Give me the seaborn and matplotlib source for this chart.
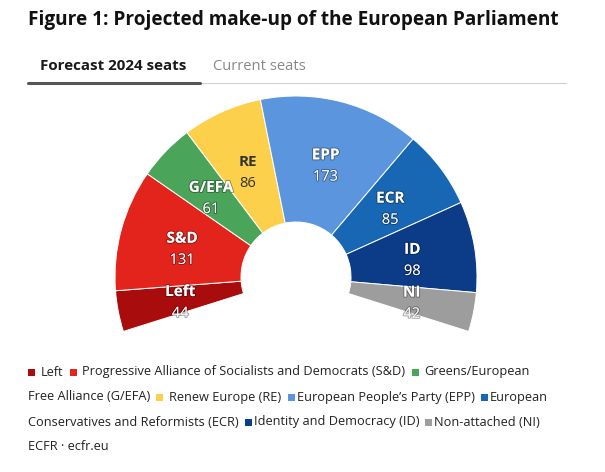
import numpy as np
import pandas as pd
import matplotlib
matplotlib.use("Agg")
import matplotlib.pyplot as plt
from matplotlib.patches import Rectangle
from matplotlib.lines import Line2D
import matplotlib.patheffects as pe
import seaborn as sns

# ---------------- data ----------------
parties = ["Left", "S&D", "G/EFA", "RE", "EPP", "ECR", "ID", "NI"]
seats = [44, 131, 61, 86, 173, 85, 98, 42]
full_names = [
    "Left",
    "Progressive Alliance of Socialists and Democrats (S&D)",
    "Greens/European Free Alliance (G/EFA)",
    "Renew Europe (RE)",
    "European People\u2019s Party (EPP)",
    "European Conservatives and Reformists (ECR)",
    "Identity and Democracy (ID)",
    "Non-attached (NI)",
]
colors = ["#a80c0c", "#e3241c", "#4aa45a", "#fdd04c", "#5a95de", "#1767b4", "#0c3c88", "#9d9d9d"]
label_colors = ["white", "white", "white", "#333333", "white", "white", "white", "white"]
title = "Figure 1: Projected make-up of the European Parliament"
tabs = ["Forecast 2024 seats", "Current seats"]
source = "ECFR \u00b7 ecfr.eu"

df = pd.DataFrame({"party": parties, "seats": seats, "color": colors})

# ---------------- figure ----------------
sns.set_theme(style="white")
plt.rcParams["font.family"] = ["Open Sans", "DejaVu Sans"]

W, H = 605, 472
fig = plt.figure(figsize=(W / 100, H / 100), dpi=100)
fig.patch.set_facecolor("white")

def px(x, y):
    return x / W, 1 - y / H

# geometry (pixels)
cx, cy, R, r_in = 296, 277, 181, 55
half = 205
ax = fig.add_axes([(cx - half) / W, (H - cy - half) / H, 2 * half / W, 2 * half / H])

span = 215.0
total = df["seats"].sum()
hidden = total * (360 - span) / span
wedges, _ = ax.pie(
    list(df["seats"]) + [hidden],
    colors=list(df["color"]) + ["white"],
    startangle=180 + (span - 180) / 2,
    counterclock=False,
    radius=1.0,
    wedgeprops=dict(width=1 - r_in / R, edgecolor="white", linewidth=0.7),
)
wedges[-1].set_visible(False)
ax.set_xlim(-half / R, half / R)
ax.set_ylim(-half / R, half / R)
ax.axis("off")

outline = [pe.withStroke(linewidth=1.4, foreground=(0, 0, 0, 0.35))]
lab_r = 118 / R
for w, name, val, lc in zip(wedges[:-1], df["party"], df["seats"], label_colors):
    mid = np.deg2rad((w.theta1 + w.theta2) / 2)
    x, y = lab_r * np.cos(mid), lab_r * np.sin(mid)
    eff = outline if lc == "white" else None
    ax.annotate(name, (x, y), xytext=(0, 5.3), textcoords="offset points",
                ha="center", va="center", fontsize=11, fontweight="bold", color=lc,
                path_effects=eff)
    ax.annotate(str(val), (x, y), xytext=(0, -10.3), textcoords="offset points",
                ha="center", va="center", fontsize=10.5, color=lc, path_effects=eff)

# ---------------- title & tabs ----------------
fig.text(*px(28, 20), title, fontsize=13.7, fontweight="bold", color="#111111",
         ha="left", va="center")
fig.text(*px(40, 66), tabs[0], fontsize=10.9, fontweight="bold", color="#1a1a1a",
         ha="left", va="center")
fig.text(*px(213, 66), tabs[1], fontsize=10.6, color="#888888", ha="left", va="center")
fig.add_artist(Line2D([28 / W, 566 / W], [1 - 83 / H, 1 - 83 / H], color="#d0d0d0", lw=0.8))
fig.add_artist(Line2D([28 / W, 200 / W], [1 - 83 / H, 1 - 83 / H], color="#555555", lw=2.2))

# ---------------- legend (flowed text) ----------------
renderer = fig.canvas.get_renderer()
leg_fs = 9.2
line_y = [372, 397, 422]
breaks = {(2, 1), (5, 1)}  # (party index, word index) that starts a new line
x0 = 28
xcur, li = x0, 0
sq = 7
for i, (nm, col) in enumerate(zip(full_names, colors)):
    words = nm.split(" ")
    if i > 0:
        xcur += 6
    yc = line_y[li]
    fig.add_artist(Rectangle(((xcur) / W, 1 - (yc + sq / 2) / H), sq / W, sq / H,
                             transform=fig.transFigure, color=col, lw=0))
    xcur += sq + (6 if i < 4 else 2)
    seg = []
    for j, wd in enumerate(words):
        if (i, j) in breaks:
            fig.text(*px(xcur, line_y[li]), " ".join(seg), fontsize=leg_fs,
                     color="#222222", ha="left", va="center")
            li += 1
            xcur = x0
            seg = []
        seg.append(wd)
    t = fig.text(*px(xcur, line_y[li]), " ".join(seg), fontsize=leg_fs,
                 color="#222222", ha="left", va="center")
    bb = t.get_window_extent(renderer)
    xcur = bb.x1

fig.text(*px(28, 446), source, fontsize=leg_fs, color="#222222", ha="left", va="center")

fig.savefig("out.png", dpi=100, facecolor="white")
